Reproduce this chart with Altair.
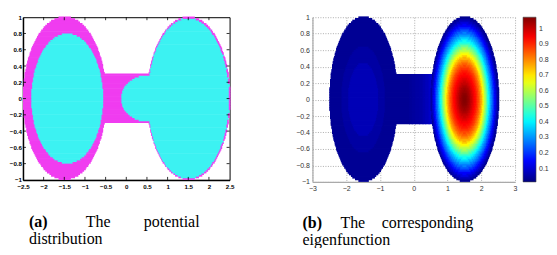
import altair as alt
import numpy as np
import pandas as pd

# ---------------- data ----------------
# domain geometry (data units)
CIRCLE_CENTERS_X = [-1.5, 1.5]
CIRCLE_RADIUS = 1.0
CHANNEL_HALF_HEIGHT = 0.3
# panel (a): potential regions (cyan = low potential)
LEFT_INNER_ELLIPSE = [-1.43, 0.0, 0.87, 0.80]   # cx, cy, a, b
RIGHT_INNER_RADIUS = 0.985
NECK_ELLIPSE = [0.55, 0.0, 0.68, 0.29]          # cx, cy, a, b
POTENTIAL_CLASSES = ["high", "low"]
POTENTIAL_COLORS = ["#f03cf0", "#3cf2f2"]

# panel (b): eigenfunction, radial profiles
RIGHT_PROFILE = [1.07, 1.069, 1.065, 1.058, 1.05, 1.04, 1.03, 1.016, 1.0, 0.985, 0.97,
                 0.955, 0.94, 0.925, 0.91, 0.89, 0.87, 0.845, 0.82, 0.79, 0.76,
                 0.72, 0.68, 0.64, 0.60, 0.56, 0.52, 0.475, 0.43, 0.39, 0.35,
                 0.315, 0.28, 0.245, 0.21, 0.175, 0.14, 0.11, 0.08, 0.055, 0.03]  # r = 0..1 step .025
LEFT_PROFILE = [0.07, 0.07, 0.07, 0.07, 0.07, 0.05, 0.05, 0.035, 0.035, 0.035, 0.035]  # r = 0..1 step .1
CHANNEL_PROFILE = [0.035, 0.035, 0.035, 0.035, 0.035, 0.04, 0.045, 0.05, 0.055, 0.065,
                   0.075, 0.09, 0.11]  # x = -0.6..0.6 step .1
JET_STOPS = [0.014, 0.146, 0.411, 0.676, 0.941, 1.073]
JET_COLORS = ["#000080", "#0000ff", "#00ffff", "#ffff00", "#ff0000", "#800000"]

XTICKS_A = [-2.5, -2, -1.5, -1, -0.5, 0, 0.5, 1, 1.5, 2, 2.5]
YTICKS = [-1, -0.8, -0.6, -0.4, -0.2, 0, 0.2, 0.4, 0.6, 0.8, 1]
XTICKS_B = [-3, -2, -1, 0, 1, 2, 3]
CBAR_TICKS = [0.1, 0.2, 0.3, 0.4, 0.5, 0.6, 0.7, 0.8, 0.9, 1.0]

CAP_A1 = ["(a)", "The", "potential"]
CAP_A2 = ["distribution"]
CAP_B1 = ["(b)", "The", "corresponding"]
CAP_B2 = ["eigenfunction"]

SERIF = "Liberation Serif"

# ---------------- raster of the domain ----------------
DX, DY = 0.02, 0.02
nx, ny = int(round(5 / DX)), int(round(2 / DY))
xc = -2.5 + (np.arange(nx) + 0.5) * DX
yc = -1.0 + (np.arange(ny) + 0.5) * DY
X, Y = np.meshgrid(xc, yc)

rl = np.hypot(X - CIRCLE_CENTERS_X[0], Y)
rr = np.hypot(X - CIRCLE_CENTERS_X[1], Y)
in_left = rl <= CIRCLE_RADIUS
in_right = rr <= CIRCLE_RADIUS
in_chan = (np.abs(X) <= 1.5) & (np.abs(Y) <= CHANNEL_HALF_HEIGHT)
domain = in_left | in_right | in_chan

cx, cy, a, b = LEFT_INNER_ELLIPSE
low = ((X - cx) / a) ** 2 + ((Y - cy) / b) ** 2 <= 1
low |= rr <= RIGHT_INNER_RADIUS
cx, cy, a, b = NECK_ELLIPSE
low |= ((X - cx) / a) ** 2 + ((Y - cy) / b) ** 2 <= 1
codes_a = np.where(domain, np.where(low, 1, 0), -1)

ri = np.clip(np.rint(rr / 0.025).astype(int), 0, len(RIGHT_PROFILE) - 1)
li = np.clip(np.rint(rl / 0.1).astype(int), 0, len(LEFT_PROFILE) - 1)
ci = np.clip(np.rint((X + 0.6) / 0.1).astype(int), 0, len(CHANNEL_PROFILE) - 1)
val = np.where(in_right, np.array(RIGHT_PROFILE)[ri],
               np.where(in_left, np.array(LEFT_PROFILE)[li], np.array(CHANNEL_PROFILE)[ci]))
codes_b = np.where(domain, np.rint(val * 1000).astype(int), -1)


def runs(codes, ox, oy):
    out = []
    for j in range(ny):
        row = codes[j]
        start = 0
        for i in range(1, nx + 1):
            if i == nx or row[i] != row[start]:
                if row[start] >= 0:
                    out.append({"x0": -2.5 + start * DX, "x1": -2.5 + i * DX + ox,
                                "y0": -1.0 + j * DY, "y1": -1.0 + (j + 1) * DY + oy,
                                "c": int(row[start])})
                start = i
    return pd.DataFrame(out)


df_a = runs(codes_a, 0.02, 0.008)
df_a["cls"] = [POTENTIAL_CLASSES[c] for c in df_a["c"]]
df_b = runs(codes_b, 0.03, 0.01)
df_b["v"] = df_b["c"] / 1000.0

# ---------------- panel (a) ----------------
WA, HA = 207, 163
axis_a = dict(title=None, format=".1~f", labelFont="Liberation Sans", labelFontWeight="bold",
              labelFontSize=6.2, labelColor="black", domainColor="black", domainWidth=1.5,
              ticks=False, grid=False, labelFlush=False, labelOverlap=False)
sx_a = alt.Scale(domain=[-2.5, 2.5], nice=False, zero=False)
sy = alt.Scale(domain=[-1, 1], nice=False, zero=False)
ax_xa = alt.Axis(values=XTICKS_A, labelPadding=3.5, **axis_a)
ax_ya = alt.Axis(values=YTICKS, labelPadding=1.5, **axis_a)

heat_a = alt.Chart(df_a).mark_rect(strokeWidth=0).encode(
    x=alt.X("x0:Q", scale=sx_a, axis=ax_xa),
    x2="x1:Q",
    y=alt.Y("y0:Q", scale=sy, axis=ax_ya),
    y2="y1:Q",
    color=alt.Color("cls:N", scale=alt.Scale(domain=POTENTIAL_CLASSES, range=POTENTIAL_COLORS),
                    legend=None),
)
xt = pd.DataFrame({"t": XTICKS_A[1:-1]})
yt = pd.DataFrame({"t": YTICKS[1:-1]})
tick_layers = [
    alt.Chart(xt).mark_rule(color="black", strokeWidth=0.8).encode(
        x=alt.X("t:Q", scale=sx_a, axis=ax_xa), y=alt.value(HA), y2=alt.value(HA - 3)),
    alt.Chart(xt).mark_rule(color="black", strokeWidth=0.8).encode(
        x=alt.X("t:Q", scale=sx_a, axis=ax_xa), y=alt.value(0), y2=alt.value(3)),
    alt.Chart(yt).mark_rule(color="black", strokeWidth=0.8).encode(
        y=alt.Y("t:Q", scale=sy, axis=ax_ya), x=alt.value(0), x2=alt.value(3)),
    alt.Chart(yt).mark_rule(color="black", strokeWidth=0.8).encode(
        y=alt.Y("t:Q", scale=sy, axis=ax_ya), x=alt.value(WA), x2=alt.value(WA - 3)),
]


def word(w, x, y, align="left", bold=False):
    return alt.Chart(pd.DataFrame({"w": [w]})).mark_text(
        align=align, baseline="alphabetic", font=SERIF, fontSize=16,
        fontWeight="bold" if bold else "normal", color="black").encode(
        text="w:N", x=alt.value(x), y=alt.value(y))


cap_a = [word(CAP_A1[0], 6, 210, bold=True), word(CAP_A1[1], 63, 210),
         word(CAP_A1[2], 177, 210, align="right"), word(CAP_A2[0], 6, 227)]

panel_a = alt.layer(heat_a, *tick_layers, *cap_a).properties(
    width=WA, height=HA, view=alt.ViewBackground(stroke="black", strokeWidth=1))

# ---------------- panel (b) ----------------
WB, HB = 203, 165
axis_b = dict(title=None, format=".1~f", labelFont="Liberation Sans", labelFontSize=7,
              labelColor="#333333", domainColor="#aaaaaa", domainWidth=1.2, ticks=False,
              grid=True, gridColor="#999999", gridDash=[1, 1.5], gridWidth=0.8,
              labelPadding=3, labelFlush=False, labelOverlap=False)
sx_b = alt.Scale(domain=[-3, 3], nice=False, zero=False)

heat_b = alt.Chart(df_b).mark_rect(strokeWidth=0).encode(
    x=alt.X("x0:Q", scale=sx_b, axis=alt.Axis(values=XTICKS_B, **axis_b)),
    x2="x1:Q",
    y=alt.Y("y0:Q", scale=sy, axis=alt.Axis(values=YTICKS, **axis_b)),
    y2="y1:Q",
    color=alt.Color("v:Q", scale=alt.Scale(domain=JET_STOPS, range=JET_COLORS, interpolate="rgb",
                                           nice=False, zero=False),
                    legend=alt.Legend(title=None, values=CBAR_TICKS, format=".1~f",
                                      gradientLength=HB, gradientThickness=13,
                                      gradientStrokeColor="#444444", gradientStrokeWidth=0.6,
                                      labelFont="Liberation Sans", labelFontSize=7,
                                      labelColor="#333333", labelOffset=3, offset=8,
                                      padding=0, labelOverlap=False, direction="vertical",
                                      orient="right")),
)
cap_b = [word(CAP_B1[0], -10, 211, bold=True), word(CAP_B1[1], 28, 211),
         word(CAP_B1[2], 161, 211, align="right"), word(CAP_B2[0], -10, 228)]

panel_b = alt.layer(heat_b, *cap_b).properties(
    width=WB, height=HB, view=alt.ViewBackground(stroke=None))

chart = alt.hconcat(panel_a, panel_b, spacing=61).resolve_scale(
    color="independent", x="independent", y="independent").properties(
    padding={"left": 0, "top": 5, "right": 0, "bottom": 0}).configure(background="white")

chart.save("out.html", embed_options={"renderer": "svg", "actions": False})
